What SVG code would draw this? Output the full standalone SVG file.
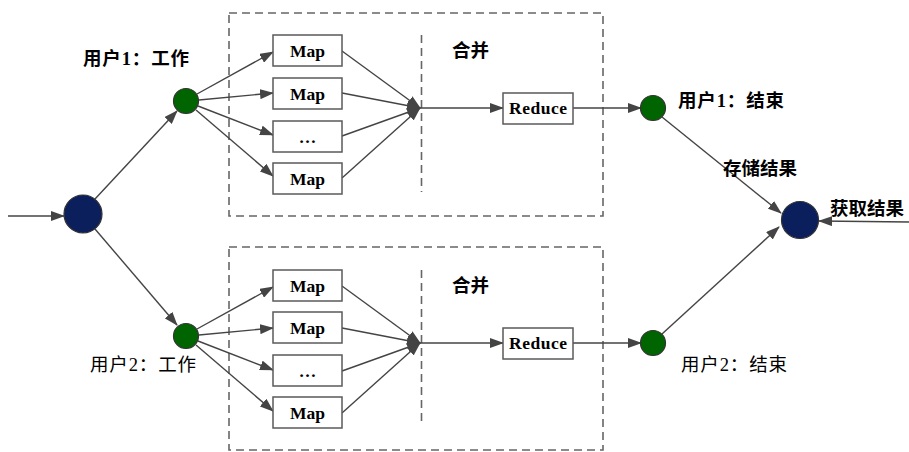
<svg xmlns="http://www.w3.org/2000/svg" width="909" height="452" viewBox="0 0 909 452">
<style>
.box{fill:#fff;stroke:#5a5a5a;stroke-width:1.5}
.dash{fill:none;stroke:#666;stroke-width:1.6;stroke-dasharray:8 5}
.ar{fill:none;stroke:#444;stroke-width:1.4;marker-end:url(#ah)}
.blue{fill:#0a1f5c;stroke:#333;stroke-width:1.2}
.green{fill:#006400;stroke:#333;stroke-width:1.2}
.en{font-family:"Liberation Serif",serif;font-weight:bold;font-size:17.5px;fill:#000;text-anchor:middle}
.zh{font-family:"Liberation Serif","Noto Sans CJK SC",sans-serif;font-size:18.5px;fill:#000}
.b{font-weight:bold}
</style>
<defs>
<marker id="ah" markerWidth="14" markerHeight="10" refX="13" refY="5" orient="auto" markerUnits="userSpaceOnUse">
<path d="M0,0 L14,5 L0,10 z" fill="#444"/>
</marker>
</defs>
<g id="groups">
<rect class="dash" x="229" y="13" width="374" height="203"/>
<line class="dash" x1="421.5" y1="35" x2="421.5" y2="192"/>
<rect class="dash" x="229" y="247" width="374" height="203"/>
<line class="dash" x1="421.5" y1="270" x2="421.5" y2="426"/>
</g>
<g id="connectors">
<line class="ar" x1="8" y1="216" x2="64" y2="216"/>
<line class="ar" x1="95" y1="199" x2="177" y2="111"/>
<line class="ar" x1="95" y1="229" x2="177" y2="325"/>
<line class="ar" x1="197" y1="94" x2="273" y2="52"/>
<line class="ar" x1="199" y1="100" x2="273" y2="93"/>
<line class="ar" x1="198" y1="106" x2="273" y2="135"/>
<line class="ar" x1="196" y1="110" x2="273" y2="176"/>
<line class="ar" x1="342" y1="51" x2="420" y2="108"/>
<line class="ar" x1="342" y1="93" x2="420" y2="108"/>
<line class="ar" x1="342" y1="136" x2="420" y2="108"/>
<line class="ar" x1="342" y1="178" x2="420" y2="108"/>
<line class="ar" x1="420" y1="108" x2="503" y2="108"/>
<line class="ar" x1="573" y1="108" x2="641" y2="108"/>
<line class="ar" x1="197" y1="329" x2="273" y2="287"/>
<line class="ar" x1="199" y1="335" x2="273" y2="328"/>
<line class="ar" x1="198" y1="341" x2="273" y2="370"/>
<line class="ar" x1="196" y1="345" x2="273" y2="411"/>
<line class="ar" x1="342" y1="286" x2="420" y2="343"/>
<line class="ar" x1="342" y1="328" x2="420" y2="343"/>
<line class="ar" x1="342" y1="371" x2="420" y2="343"/>
<line class="ar" x1="342" y1="413" x2="420" y2="343"/>
<line class="ar" x1="420" y1="343" x2="503" y2="343"/>
<line class="ar" x1="573" y1="343" x2="641" y2="343"/>
<line class="ar" x1="662" y1="117" x2="781" y2="213"/>
<line class="ar" x1="662" y1="334" x2="779" y2="227"/>
<line class="ar" x1="909" y1="222" x2="819" y2="221"/>
</g>
<g id="start"><circle class="blue" cx="83" cy="214" r="19"/></g>
<g id="u1work"><circle class="green" cx="186" cy="101" r="12.5"/><text class="zh b" x="83" y="65" textLength="106">用户1：工作</text></g>
<g id="u2work"><circle class="green" cx="186" cy="336" r="12.5"/><text class="zh" x="90" y="371" textLength="106">用户2：工作</text></g>
<g id="map1a"><rect class="box" x="273" y="35" width="69" height="31"/><text class="en" x="307.5" y="57">Map</text></g>
<g id="map1b"><rect class="box" x="273" y="78" width="69" height="31"/><text class="en" x="307.5" y="100">Map</text></g>
<g id="map1c"><rect class="box" x="273" y="121" width="69" height="31"/><text class="en" x="307.5" y="143">…</text></g>
<g id="map1d"><rect class="box" x="273" y="163" width="69" height="31"/><text class="en" x="307.5" y="185">Map</text></g>
<g id="map2a"><rect class="box" x="273" y="270" width="69" height="31"/><text class="en" x="307.5" y="292">Map</text></g>
<g id="map2b"><rect class="box" x="273" y="312" width="69" height="31"/><text class="en" x="307.5" y="334">Map</text></g>
<g id="map2c"><rect class="box" x="273" y="355" width="69" height="31"/><text class="en" x="307.5" y="377">…</text></g>
<g id="map2d"><rect class="box" x="273" y="397" width="69" height="31"/><text class="en" x="307.5" y="419">Map</text></g>
<g id="merge1"><text class="zh b" x="452" y="57">合并</text></g>
<g id="merge2"><text class="zh b" x="452" y="292">合并</text></g>
<g id="reduce1"><rect class="box" x="503" y="93" width="70" height="31"/><text class="en" x="538" y="114" textLength="58">Reduce</text></g>
<g id="reduce2"><rect class="box" x="503" y="328" width="70" height="31"/><text class="en" x="538" y="349" textLength="58">Reduce</text></g>
<g id="u1end"><circle class="green" cx="653" cy="108" r="12.5"/><text class="zh b" x="678" y="107" textLength="106">用户1：结束</text></g>
<g id="u2end"><circle class="green" cx="653" cy="343" r="12.5"/><text class="zh" x="681" y="371" textLength="106">用户2：结束</text></g>
<g id="store"><text class="zh b" x="723" y="175">存储结果</text></g>
<g id="end"><circle class="blue" cx="800" cy="220" r="18.5"/><text class="zh b" x="830" y="215">获取结果</text></g>
</svg>
